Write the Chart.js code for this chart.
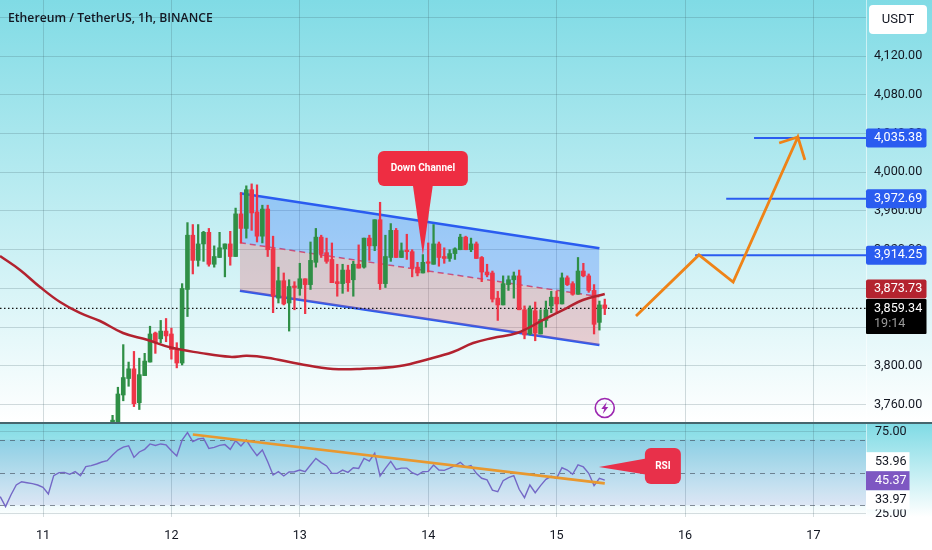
<!DOCTYPE html>
<html>
<head>
<meta charset="utf-8">
<style>
html,body{margin:0;padding:0;background:#fff;width:932px;height:550px;overflow:hidden}
canvas{position:absolute;left:0;display:block}
#price{top:0}
#rsi{top:424px}
</style>
<script src="https://cdn.jsdelivr.net/npm/chart.js@4"></script>
</head>
<body>
<canvas id="price" width="932" height="424"></canvas>
<canvas id="rsi" width="932" height="126"></canvas>
<script>
// hours since the 11th 00:00 ; first candle is at hour 13
const firstCandleHour = 13;
const dayTicks = [0,24,48,72,96,120,144];
const dayLabels = ['11','12','13','14','15','16','17'];
const priceTicks = [4160,4120,4080,4040,4000,3960,3920,3880,3840,3800,3760];
const rsiTicks = [25,75];
const rsiLevels = [70,50,30];

const opens = [3742,3742,3770,3787,3797,3762,3790,3804,3834,3828,3836,3833,3817,3803,3879,3935,3909,3926,3938,3905,3912,3921,3926,3913,3957,3942,3982,3959,3934,3962,3921,3870,3888,3865,3882,3880,3890,3884,3907,3933,3917,3910,3887,3885,3899,3889,3905,3902,3932,3924,3951,3885,3912,3940,3912,3919,3918,3902,3896,3907,3905,3926,3913,3911,3916,3920,3933,3920,3926,3912,3897,3896,3870,3863,3884,3889,3893,3858,3833,3857,3833,3847,3862,3871,3864,3891,3885,3874,3898,3893,3878,3845,3863];
const highs = [3749,3778,3822,3804,3815,3808,3813,3841,3835,3847,3849,3839,3824,3885,3948,3946,3946,3939,3942,3924,3938,3926,3939,3963,3979,3986,3988,3987,3966,3966,3934,3902,3896,3889,3887,3906,3890,3928,3942,3935,3932,3927,3905,3905,3904,3908,3925,3932,3935,3951,3969,3935,3947,3942,3927,3936,3920,3907,3915,3927,3946,3928,3922,3920,3922,3936,3934,3932,3928,3913,3905,3898,3877,3893,3893,3897,3899,3862,3862,3866,3858,3867,3877,3877,3896,3893,3887,3912,3906,3895,3884,3867,3869];
const lows = [3741,3741,3764,3779,3758,3755,3790,3804,3813,3824,3825,3807,3798,3801,3851,3895,3903,3908,3903,3902,3912,3892,3904,3913,3927,3932,3940,3928,3927,3913,3855,3865,3863,3836,3858,3873,3854,3879,3902,3912,3906,3886,3872,3875,3877,3872,3901,3901,3909,3919,3879,3881,3908,3912,3912,3910,3892,3893,3896,3897,3905,3903,3906,3908,3910,3920,3920,3918,3911,3887,3892,3866,3847,3863,3878,3870,3858,3828,3832,3826,3833,3840,3855,3856,3864,3883,3873,3874,3892,3876,3833,3837,3853];
const closes = [3744,3771,3788,3797,3761,3791,3805,3833,3824,3836,3831,3817,3803,3880,3935,3909,3926,3938,3905,3913,3922,3926,3913,3957,3942,3982,3958,3934,3962,3920,3872,3888,3864,3882,3881,3890,3884,3909,3933,3916,3908,3886,3885,3899,3886,3905,3901,3932,3924,3951,3885,3913,3940,3912,3919,3918,3901,3896,3907,3906,3926,3912,3911,3916,3921,3933,3920,3926,3911,3897,3894,3869,3863,3885,3889,3893,3858,3832,3859,3834,3848,3858,3871,3864,3891,3884,3874,3898,3893,3878,3843,3863,3859.34];

const maHours = [-8.04,-4.3,-0.56,3.18,6.9,10.65,14.95,19.44,24.1,29.35,34.95,38.1,41.9,48,54.2,59.25,66.7,72.15,76.6,80.4,84.1,88.6,93.5,97.9,100.9,105];
const maValues = [3913.5,3899.1,3881.5,3866,3854.7,3846.4,3834,3827,3818.7,3813.5,3809.4,3810.4,3808.5,3802,3796.9,3796.9,3800,3807.2,3814.4,3823.7,3828.9,3834,3847.5,3859.8,3868.1,3874.3];

const channelHours = [36.8,104];
const channelTop = [3978.3,3921.5];
const channelMid = [3927.3,3871.5];
const channelBottom = [3877.7,3821.6];

const arrowHours = [110.84,122.6,129,141.1,142.4,141.1,137.6];
const arrowValues = [3851.6,3914.6,3886.7,4036.4,4012.7,4036.4,4030.2];

const lastPrice = 3859.34;
const targets = [4035.38,3972.69,3914.25];
const targetStartHours = [132.9,127.7,121.9];

const rsiValues = [35.3,29.2,36.3,42.4,44.4,43.8,43.2,42.4,41.0,36.9,48.1,49.9,50.1,48.9,50.5,48.1,53.6,54.2,55.2,56.4,57.2,60.7,63.7,65.5,66.3,59.2,62.5,64.1,67.4,66.5,67.4,66.8,63.3,60.1,69.8,74.3,68.8,70.4,70.8,64.7,65.3,66.5,67.0,64.1,69.4,66.1,69.8,64.7,60.3,63.7,56.6,48.5,50.5,47.9,50.3,50.5,51.5,50.5,54.6,58.6,56.0,54.0,49.5,49.5,51.5,50.1,52.9,52.5,58.6,57.0,61.7,47.9,52.5,56.8,51.9,52.7,52.7,49.9,48.5,50.5,50.7,54.6,51.5,51.3,52.7,54.2,56.2,53.2,54.2,49.5,46.5,45.5,39.3,38.3,45.0,46.9,48.1,39.8,34.7,42.4,37.7,42.0,45.8,47.7,46.5,52.9,51.5,48.9,54.6,53.4,49.5,42.0,46.5,45.37];
const rsiStartHour = -8;
const rsiTrendHours = [28,105];
const rsiTrendValues = [73.2,43.4];

const XMIN = -8.04, XMAX = 153.83;
const GREEN = '#2f8f46', RED = '#ee3547', GRID = 'rgba(60,90,100,0.22)';
const TICK = '#131722', FONT = 'Roboto';

const hours = opens.map((_, i) => firstCandleHour + i);
const pairs = (xs, ys) => xs.map((x, i) => ({x, y: ys[i]}));
const candleColor = c => closes[c.dataIndex] >= opens[c.dataIndex] ? GREEN : RED;

function fixY(s){ s.width = 66; s.paddingTop = s.paddingBottom = s.paddingLeft = s.paddingRight = 0; }
function fixX(h){ return s => { s.height = h; s.paddingTop = s.paddingBottom = s.paddingLeft = s.paddingRight = 0; }; }

function bg(stops, h){
  return {
    id:'bg',
    beforeDraw(chart){
      const c = chart.ctx, g = c.createLinearGradient(0,0,0,h);
      stops.forEach(s => g.addColorStop(s[0], s[1]));
      c.save(); c.fillStyle = '#fff'; c.fillRect(0,0,932,chart.height);
      c.fillStyle = g; c.fillRect(0,0,932,h);
      c.fillStyle = 'rgba(255,255,255,0.55)'; c.fillRect(866,0,1,h);
      c.restore();
    }
  };
}
function badge(c, x, y, w, h, fill, text, color){
  c.fillStyle = fill;
  c.beginPath(); c.roundRect(x, y - h/2, w, h, 2); c.fill();
  if(text){ label(c, text, x + 8, y, color); }
}
function label(c, text, x, y, color, align, font){
  c.fillStyle = color; c.textAlign = align || 'left'; c.textBaseline = 'middle';
  c.font = font || ('400 12.6px ' + FONT);
  c.fillText(text, x, y);
}
const fmt = v => v.toLocaleString('en-US',{minimumFractionDigits:2,maximumFractionDigits:2});

const pricePlugin = {
  id:'priceOverlay',
  afterDraw(chart){
    const c = chart.ctx, Y = chart.scales.y, X = chart.scales.x;
    c.save();
    // title
    label(c, 'Ethereum / TetherUS, 1h, BINANCE', 8, 18.5, TICK, 'left', '600 12.2px "Open Sans"');
    // currency button
    c.fillStyle = '#fff';
    c.beginPath(); c.roundRect(869,5,58,29,4); c.fill();
    label(c, 'USDT', 898, 19.5, TICK, 'center', '400 13px ' + FONT);
    // target badges
    targets.forEach(t => badge(c, 866, Y.getPixelForValue(t), 60.5, 19, '#2a5cf0', fmt(t), '#fff'));
    // moving average and last price badges
    badge(c, 866, Y.getPixelForValue(maValues[maValues.length-1]) - 5, 60.5, 19, '#b4232f', '3,873.73', '#fff');
    c.fillStyle = '#000'; c.beginPath(); c.roundRect(866, Y.getPixelForValue(lastPrice) - 9.5, 60.5, 35, 1); c.fill();
    label(c, fmt(lastPrice), 874, Y.getPixelForValue(lastPrice), '#fff');
    label(c, '19:14', 874, Y.getPixelForValue(lastPrice) + 15.5, '#9a9a9a');
    // Down Channel callout
    const tx = X.getPixelForValue(71), ty = Y.getPixelForValue(3914.6);
    c.fillStyle = '#ee2d42';
    c.beginPath(); c.roundRect(tx-45, ty-104, 90, 35, 6); c.fill();
    c.beginPath(); c.moveTo(tx-10, ty-70); c.lineTo(tx+10, ty-70); c.lineTo(tx, ty); c.closePath(); c.fill();
    label(c, 'Down Channel', tx, ty-86, '#fff', 'center', '700 10px ' + FONT);
    // lightning icon
    const ix = X.getPixelForValue(105), iy = Y.getPixelForValue(3756.6);
    c.strokeStyle = '#9c27b0'; c.lineWidth = 1.6;
    c.beginPath(); c.arc(ix, iy, 9.5, 0, Math.PI*2); c.stroke();
    c.fillStyle = '#9c27b0';
    c.beginPath(); c.moveTo(ix+2, iy-6); c.lineTo(ix-3.5, iy+1); c.lineTo(ix-0.5, iy+1); c.lineTo(ix-2, iy+6); c.lineTo(ix+3.5, iy-1); c.lineTo(ix+0.5, iy-1); c.closePath(); c.fill();
    // pane separator
    c.fillStyle = '#46666e'; c.fillRect(0,422,932,2);
    c.restore();
  }
};

new Chart(document.getElementById('price'), {
  type:'bar',
  plugins:[bg([[0,'#80dbe5'],[1,'#ffffff']],422), pricePlugin],
  data:{ datasets:[
    {type:'line',label:'Channel top',data:pairs(channelHours,channelTop),borderColor:'#2a5cf0',borderWidth:2.6,pointRadius:0,fill:'+1',backgroundColor:'rgba(41,98,255,0.27)',order:9},
    {type:'line',label:'Channel mid',data:pairs(channelHours,channelMid),borderColor:'#e2506a',borderWidth:1.5,borderDash:[6,4],pointRadius:0,fill:'+1',backgroundColor:'rgba(224,90,100,0.27)',order:9},
    {type:'line',label:'Channel bottom',data:pairs(channelHours,channelBottom),borderColor:'#2a5cf0',borderWidth:2.6,pointRadius:0,fill:false,order:9},
    {type:'line',label:'Last price',data:pairs([XMIN,XMAX],[lastPrice,lastPrice]),borderColor:'#111',borderWidth:1.2,borderDash:[1.5,2.5],pointRadius:0,order:8},
    {type:'bar',label:'Wicks',data:hours.map((h,i)=>({x:h,y:[lows[i],highs[i]]})),backgroundColor:candleColor,barThickness:1.6,grouped:false,order:7},
    {type:'bar',label:'Bodies',data:hours.map((h,i)=>({x:h,y:[opens[i],closes[i]]})),backgroundColor:candleColor,barThickness:4,minBarLength:1.5,grouped:false,order:6},
    {type:'line',label:'MA',data:pairs(maHours,maValues),borderColor:'#b2222f',borderWidth:2.5,pointRadius:0,tension:0.4,order:3},
    ...targets.map((t,i)=>({type:'line',label:'Target '+t,data:pairs([targetStartHours[i],XMAX],[t,t]),borderColor:'#2a5cf0',borderWidth:2,pointRadius:0,order:2})),
    {type:'line',label:'Projection',data:pairs(arrowHours,arrowValues),borderColor:'#ef8317',borderWidth:2.8,pointRadius:0,borderJoinStyle:'miter',order:1}
  ]},
  options:{
    responsive:false,animation:false,devicePixelRatio:1,
    layout:{padding:0},
    plugins:{legend:{display:false},tooltip:{enabled:false},title:{display:false}},
    scales:{
      x:{type:'linear',min:XMIN,max:XMAX,offset:false,
        afterBuildTicks:s=>{s.ticks=dayTicks.map(v=>({value:v}));},
        afterFit:fixX(2),
        ticks:{display:false},
        grid:{color:GRID,drawTicks:false,offset:false},border:{display:false}},
      y:{type:'linear',position:'right',min:3742.1,max:4177.9,
        afterBuildTicks:s=>{s.ticks=priceTicks.map(v=>({value:v}));},
        afterFit:fixY,
        ticks:{padding:8,color:TICK,font:{family:FONT,size:12.6},callback:v=>fmt(v),autoSkip:false},
        grid:{color:GRID,drawTicks:false},border:{display:false}}
    }
  }
});

const rsiPlugin = {
  id:'rsiOverlay',
  beforeDatasetsDraw(chart){
    const c = chart.ctx, Y = chart.scales.y, a = chart.chartArea;
    const t = Y.getPixelForValue(rsiLevels[0]), b = Y.getPixelForValue(rsiLevels[2]);
    c.save();
    c.fillStyle = 'rgba(70,70,190,0.11)'; c.fillRect(a.left,t,a.right-a.left,b-t);
    c.strokeStyle = 'rgba(60,70,85,0.6)'; c.lineWidth = 1; c.setLineDash([5,5]);
    rsiLevels.forEach(l => { const y = Math.round(Y.getPixelForValue(l))+0.5; c.beginPath(); c.moveTo(a.left,y); c.lineTo(a.right,y); c.stroke(); });
    c.restore();
  },
  afterDraw(chart){
    const c = chart.ctx, Y = chart.scales.y, X = chart.scales.x;
    c.save();
    c.fillStyle = '#fff'; c.fillRect(866, 461.7-424-9.5, 43.5, 19);
    label(c, '53.96', 875, 461.7-424, TICK);
    c.fillStyle = '#fff'; c.fillRect(866, 500-424-9.5, 43.5, 19);
    label(c, '33.97', 875, 500-424, TICK);
    c.fillStyle = '#7e57c2'; c.fillRect(866, 480.7-424-9.5, 43.5, 19);
    label(c, '45.37', 875, 480.7-424, '#fff');
    // RSI callout
    const tx = X.getPixelForValue(103.9), ty = Y.getPixelForValue(53.35);
    c.fillStyle = '#e8304a';
    c.beginPath(); c.roundRect(tx+46, ty-19, 36, 36, 6); c.fill();
    c.beginPath(); c.moveTo(tx,ty); c.lineTo(tx+50,ty-9); c.lineTo(tx+50,ty+8); c.closePath(); c.fill();
    label(c, 'RSI', tx+64, ty-1, '#fff', 'center', '700 10px ' + FONT);
    c.restore();
  }
};

new Chart(document.getElementById('rsi'), {
  type:'line',
  plugins:[bg([[0,'#80dbe5'],[1,'#ffffff']],93), rsiPlugin],
  data:{ datasets:[
    {label:'RSI',data:rsiValues.map((v,i)=>({x:rsiStartHour+i,y:v})),borderColor:'#7468c6',borderWidth:1.4,pointRadius:0,order:2},
    {label:'RSI trend',data:pairs(rsiTrendHours,rsiTrendValues),borderColor:'#e8982f',borderWidth:2.6,pointRadius:0,order:1}
  ]},
  options:{
    responsive:false,animation:false,devicePixelRatio:1,
    layout:{padding:0},
    plugins:{legend:{display:false},tooltip:{enabled:false},title:{display:false}},
    scales:{
      x:{type:'linear',min:XMIN,max:XMAX,offset:false,
        afterBuildTicks:s=>{s.ticks=dayTicks.map(v=>({value:v}));},
        afterFit:fixX(33),
        ticks:{padding:11,color:TICK,font:{family:FONT,size:12.6},maxRotation:0,autoSkip:false,
          callback:v=>dayLabels[dayTicks.indexOf(v)]},
        grid:{color:GRID,drawTicks:false},border:{display:false}},
      y:{type:'linear',position:'right',min:22.9,max:79.55,
        afterBuildTicks:s=>{s.ticks=rsiTicks.map(v=>({value:v}));},
        afterFit:fixY,
        ticks:{padding:9,color:TICK,font:{family:FONT,size:12.6},callback:v=>v.toFixed(2),autoSkip:false},
        grid:{color:'rgba(60,90,100,0.2)',drawTicks:false},border:{display:false}}
    }
  }
});
</script>
</body>
</html>
